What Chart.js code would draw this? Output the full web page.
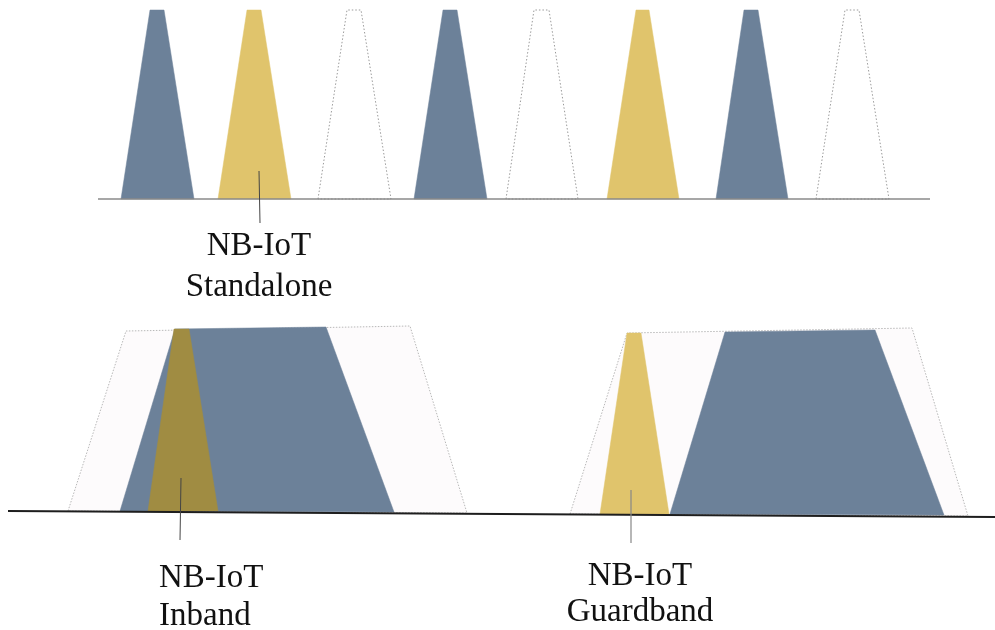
<!DOCTYPE html>
<html><head><meta charset="utf-8">
<script src="https://cdn.jsdelivr.net/npm/chart.js@4"></script>
<style>html,body{margin:0;padding:0;background:#fff}#wrap{width:995px;height:630px;position:relative}</style>
</head><body><div id="wrap"><canvas id="c"></canvas></div>
<script>
// ---- Data (x = frequency position, y = level, both in picture units) ----
// Top row: standalone carriers
const standaloneKinds       = ['lte','nb','empty','lte','empty','nb','lte','empty'];
const standaloneBottomLeft  = [121, 218, 318, 414, 506, 607, 716, 816];
const standaloneBottomRight = [194, 291, 391, 487, 578, 679, 788, 889];
const standaloneTopLeft     = [150, 247, 347, 443, 534, 636, 744, 845];
const standaloneTopRight    = [164, 261, 361, 457, 549, 649, 758, 859];
const standaloneFloor = 199;
const standaloneCeil  = 10;
const topAxisLine = [[98, 199], [930, 199]];

// Bottom row: inband and guardband
const inbandOuter = [[68, 511], [126, 331], [410, 326], [467, 513]];
const inbandLte   = [[120, 511], [175, 329], [326, 327], [394, 512]];
const inbandNb    = [[148, 511], [174, 329], [189, 329], [218, 511]];
const guardOuter  = [[570, 514], [627, 333], [912, 328], [968, 516]];
const guardNb     = [[600, 514], [627, 333], [641, 333], [669, 514]];
const guardLte    = [[670, 514], [725, 332], [875, 330], [944, 515]];
const bottomAxisLine = [[8, 511], [995, 517]];

// Pointer lines
const pointerStandalone = [[259, 171], [260, 223]];
const pointerInband     = [[181, 478], [180, 540]];
const pointerGuard      = [[631, 490], [631, 543]];

// Labels
const labelLines = [['NB-IoT', 'Standalone'], ['NB-IoT', 'Inband'], ['NB-IoT', 'Guardband']];
const labelX     = [259, 159, 640];
const labelY     = [255, 587, 585];
const labelAlign = ['center', 'left', 'center'];
const labelGap   = [41, 38, 36];

// ---- Styles ----
const COL_LTE = '#6c8199';
const COL_NB = '#e0c46c';
const COL_NB_IN = '#a08c42';
const COL_PALE = '#fdfbfc';

function pts(arr) {
  const p = arr.map(a => ({x: a[0], y: a[1]}));
  return p;
}
function closed(arr) { return pts(arr.concat([arr[0]])); }

const datasets = [];
function shape(arr, fillColor, opts) {
  datasets.push(Object.assign({
    data: closed(arr), showLine: true, pointRadius: 0, tension: 0,
    fill: 'shape', backgroundColor: fillColor, borderColor: fillColor, borderWidth: 0.5
  }, opts || {}));
}
function line(arr, color, width, order, dash) {
  datasets.push({
    data: pts(arr), showLine: true, pointRadius: 0, tension: 0, fill: false,
    borderColor: color, borderWidth: width, order: order, borderDash: dash || []
  });
}

// Standalone carriers
for (let i = 0; i < standaloneKinds.length; i++) {
  const poly = [[standaloneBottomLeft[i], standaloneFloor], [standaloneTopLeft[i], standaloneCeil],
                [standaloneTopRight[i], standaloneCeil], [standaloneBottomRight[i], standaloneFloor]];
  const k = standaloneKinds[i];
  if (k === 'empty') {
    shape(poly, 'rgba(255,255,255,0)', {borderColor: '#9a9a9a', borderWidth: 1, borderDash: [1.5, 2], order: 2});
  } else {
    shape(poly, k === 'lte' ? COL_LTE : COL_NB, {order: 2});
  }
}
// Bottom shapes
shape(inbandOuter, COL_PALE, {borderColor: '#b8b8b8', borderWidth: 1, borderDash: [1.5, 1.5], order: 4});
shape(inbandLte, COL_LTE, {order: 3});
shape(inbandNb, COL_NB_IN, {order: 2});
shape(guardOuter, COL_PALE, {borderColor: '#b8b8b8', borderWidth: 1, borderDash: [1.5, 1.5], order: 4});
shape(guardNb, COL_NB, {order: 2});
shape(guardLte, COL_LTE, {order: 2});
// Axis lines and pointers
line(topAxisLine, '#8a8a8a', 1.5, 1);
line(bottomAxisLine, '#1e1e1e', 2, 1);
line(pointerStandalone, '#444', 1, 0);
line(pointerInband, '#444', 1, 0);
line(pointerGuard, '#888', 1.2, 0);

const labelPlugin = {
  id: 'labels',
  afterDatasetsDraw(chart) {
    const {ctx, scales: {x, y}} = chart;
    ctx.save();
    ctx.fillStyle = '#111';
    ctx.font = '33px "Liberation Serif", "DejaVu Serif", serif';
    ctx.textBaseline = 'alphabetic';
    labelLines.forEach((lines, i) => {
      ctx.textAlign = labelAlign[i];
      lines.forEach((t, j) => {
        ctx.fillText(t, x.getPixelForValue(labelX[i]), y.getPixelForValue(labelY[i] + j * labelGap[i]));
      });
    });
    ctx.restore();
  }
};

new Chart(document.getElementById('c'), {
  type: 'scatter',
  data: {datasets},
  options: {
    responsive: true, maintainAspectRatio: false, animation: false,
    layout: {padding: 0},
    plugins: {legend: {display: false}, tooltip: {enabled: false}},
    scales: {
      x: {type: 'linear', min: 0, max: 995, display: false},
      y: {type: 'linear', min: 0, max: 630, reverse: true, display: false}
    }
  },
  plugins: [labelPlugin]
});
</script>
</body></html>
